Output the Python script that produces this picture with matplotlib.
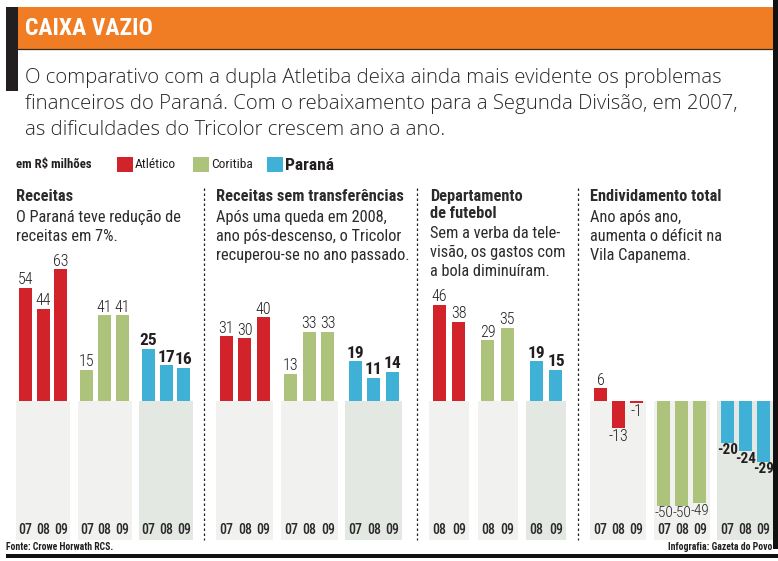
import matplotlib
matplotlib.use("Agg")
import matplotlib.pyplot as plt
from matplotlib.patches import Rectangle
from matplotlib import font_manager as fm

# ---------------- data ----------------
teams = ["Atlético", "Coritiba", "Paraná"]
team_colors = ["#d2232a", "#adc27a", "#3fb1d6"]

panel_titles = ["Receitas", "Receitas sem transferências", "Departamento\nde futebol", "Endividamento total"]
panel_notes = [
    ["O Paraná teve redução de", "receitas em 7%."],
    ["Após uma queda em 2008,", "ano pós-descenso, o Tricolor", "recuperou-se no ano passado."],
    ["Sem a verba da tele-", "visão, os gastos com", "a bola diminuíram."],
    ["Ano após ano,", "aumenta o déficit na", "Vila Capanema."],
]
years_full = ["07", "08", "09"]
years_short = ["08", "09"]

receitas_atl = [54, 44, 63]
receitas_cor = [15, 41, 41]
receitas_par = [25, 17, 16]

semtransf_atl = [31, 30, 40]
semtransf_cor = [13, 33, 33]
semtransf_par = [19, 11, 14]

futebol_atl = [46, 38]
futebol_cor = [29, 35]
futebol_par = [19, 15]

divida_atl = [6, -13, -1]
divida_cor = [-50, -50, -49]
divida_par = [-20, -24, -29]

title_text = "CAIXA VAZIO"
intro_lines = [
    "O comparativo com a dupla Atletiba deixa ainda mais evidente os problemas",
    "financeiros do Paraná. Com o rebaixamento para a Segunda Divisão, em 2007,",
    "as dificuldades do Tricolor crescem ano a ano.",
]
unit_label = "em R$ milhões"
source_text = "Fonte: Crowe Horwath RCS."
credit_text = "Infografia: Gazeta do Povo"

panels_data = [
    (years_full, [receitas_atl, receitas_cor, receitas_par]),
    (years_full, [semtransf_atl, semtransf_cor, semtransf_par]),
    (years_short, [futebol_atl, futebol_cor, futebol_par]),
    (years_full, [divida_atl, divida_cor, divida_par]),
]

# ---------------- fonts ----------------
names = {f.name for f in fm.fontManager.ttflist}
cond_entries = [f for f in fm.fontManager.ttflist
                if ("Condensed" in f.name or "Narrow" in f.name
                    or f.stretch in ("condensed", "semi-condensed", "extra-condensed"))]
COND = None
for pref in ["Noto Sans", "Liberation Sans Narrow", "Roboto", "Open Sans", "DejaVu Sans", ""]:
    for f in cond_entries:
        if f.name.startswith(pref) and "Extra" not in f.name and "Mono" not in f.name \
                and "Serif" not in f.name and f.stretch != "extra-condensed":
            COND = dict(family=f.name, stretch=f.stretch)
            break
    if COND:
        break
CONDENSED_FOUND = COND is not None
if COND is None:
    COND = dict(family="Roboto")
FS = 1.0 if CONDENSED_FOUND else 0.85   # shrink wide fallback
BODY = dict(family="Open Sans" if "Open Sans" in names else "DejaVu Sans")

# ---------------- layout (pixels) ----------------
W, H = 778, 561
BASE = 401          # pixel row of zero line
SCALE = 2.09        # pixels per R$ million
BLOCK_BOTTOM = 540
BAR_W = 13
# (first bar centre, bar step, group step, block width) for each panel
layout = [
    (25.5, 17.6, 61.5, 54),
    (226.5, 18.5, 64.5, 57),
    (439.5, 19.5, 48.5, 40),
    (600.5, 18.0, 63.5, 56),
]
panel_x = [16, 216, 430, 590]
dividers = [204, 417, 578]

fig = plt.figure(figsize=(W / 100, H / 100), dpi=100)
canvas = fig.add_axes([0, 0, 1, 1])
canvas.set_xlim(0, W)
canvas.set_ylim(H, 0)
canvas.axis("off")

bars_ax = fig.add_axes([0, 0, 1, 1], zorder=2)
bars_ax.set_xlim(0, W)
bars_ax.set_ylim(-(H - BASE) / SCALE, BASE / SCALE)
bars_ax.axis("off")
bars_ax.patch.set_alpha(0)

# header
canvas.add_patch(Rectangle((6, 7), 12, 84, color="#231f20", lw=0))
canvas.add_patch(Rectangle((18, 7), 755, 42, color="#f07d23", lw=0))
canvas.plot([18, 773], [49, 49], color="#3a2a1a", lw=0.9)
canvas.add_patch(Rectangle((773, 0), 5, 549, color="#111111", lw=0))
canvas.add_patch(Rectangle((6, 554), 772, 4, color="#111111", lw=0))
canvas.text(25, 28, title_text, color="white", fontsize=17 * FS, fontweight="heavy",
            va="center", ha="left", **COND)
for i, line in enumerate(intro_lines):
    canvas.text(25, 78 + i * 26, line, color="#2a2627", fontsize=14.7, fontweight="light",
                va="center", ha="left", **BODY)

# legend
canvas.text(16, 164, unit_label, fontsize=9.2 * FS, fontweight="bold", color="#231f20",
            va="center", **COND)
leg_x = [117, 193, 267]
for lx, name, col in zip(leg_x, teams, team_colors):
    canvas.add_patch(Rectangle((lx, 157), 16, 15, color=col, lw=0))
    if name == "Paraná":
        canvas.text(lx + 18, 165, name, fontsize=12.5 * FS, fontweight="bold", color="#231f20",
                    va="center", **COND)
    else:
        canvas.text(lx + 18, 164, name, fontsize=9.6 * FS, color="#231f20", va="center", **COND)

# dividers
for dx in dividers:
    canvas.plot([dx, dx], [188, 540], color="#222222", lw=0.9, ls=(0, (2, 2)))

# panels
for p, ((yrs, series), (x0, step, gstep, bw), px) in enumerate(zip(panels_data, layout, panel_x)):
    lines = panel_titles[p].split("\n")
    ty = 196
    for j, tl in enumerate(lines):
        canvas.text(px, ty + j * 17, tl, fontsize=11.8 * FS, color="#2b2b2b", va="center",
                    fontweight="semibold", **COND)
    ny = ty + len(lines) * 17 + (3 if len(lines) > 1 else 4)
    for j, nl in enumerate(panel_notes[p]):
        canvas.text(px, ny + j * 19, nl, fontsize=11.8 * FS, color="#2b2b2b", va="center", **COND)

    n = len(yrs)
    for g, (vals, col) in enumerate(zip(series, team_colors)):
        xs = [x0 + g * gstep + i * step for i in range(n)]
        mid = (xs[0] + xs[-1]) / 2
        block_col = "#e4e8e2" if g == 2 else "#f1f2ef"
        canvas.add_patch(Rectangle((mid - bw / 2, BASE), bw, BLOCK_BOTTOM - BASE,
                                   color=block_col, lw=0, zorder=0))
        bars_ax.bar(xs, vals, width=BAR_W, color=col, lw=0)
        bold = (g == 2)
        for x, v, yr in zip(xs, vals, yrs):
            off = 0.5 if v >= 0 else -0.5
            if bold:
                fsz = 12.5 if v >= 0 else 11.0
            else:
                fsz = 11.5 if v > -40 else 11.0
            bars_ax.annotate(str(v), (x, v), xytext=(0, off), textcoords="offset points",
                             ha="center", va="bottom" if v >= 0 else "top",
                             fontsize=fsz * FS,
                             fontweight="bold" if bold else "light",
                             color="#231f20", **COND)
            canvas.text(x, 530, yr, fontsize=10 * FS, color="#2b2b2b", ha="center", va="center",
                        fontweight="medium", **COND)

canvas.text(6, 547, source_text, fontsize=7, fontweight="bold", color="#231f20",
            va="center", ha="left", **COND)
canvas.text(772, 547, credit_text, fontsize=7, fontweight="bold", color="#231f20",
            va="center", ha="right", **COND)

fig.savefig("out.png", dpi=100)
